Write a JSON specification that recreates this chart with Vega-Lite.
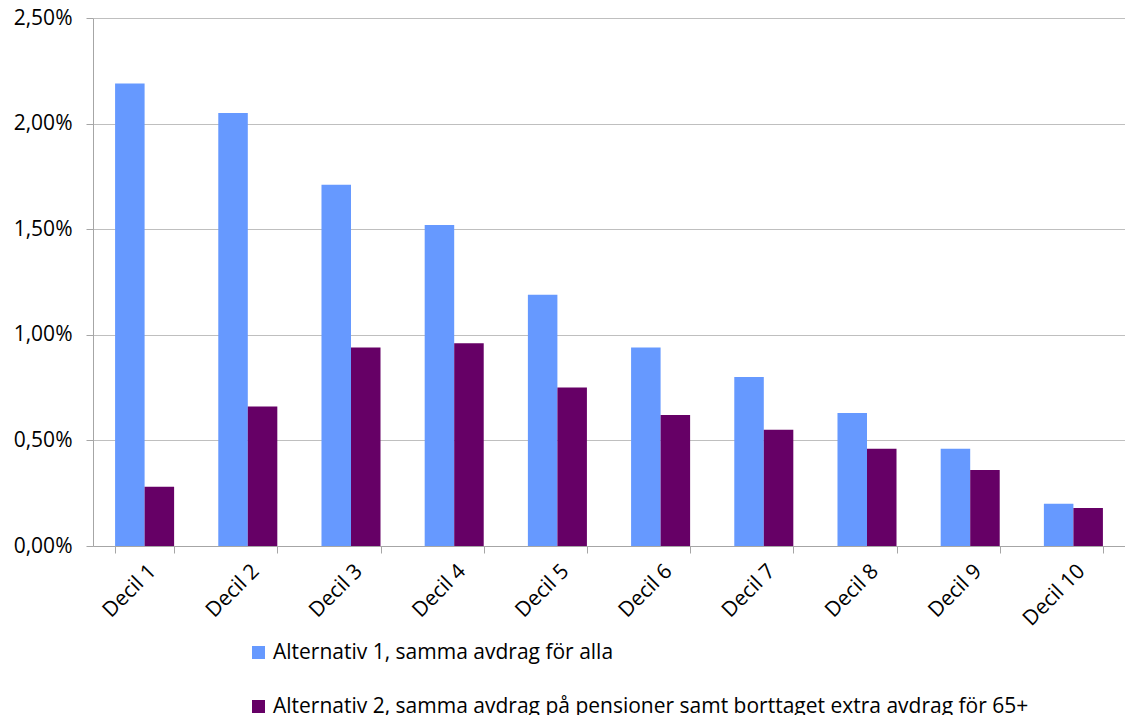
{
  "$schema": "https://vega.github.io/schema/vega-lite/v6.json",
  "width": 1032,
  "height": 528,
  "autosize": {"type": "none"},
  "padding": {"left": 93, "top": 18, "right": 0, "bottom": 169},
  "background": "white",
  "config": {
    "view": {"stroke": null},
    "font": "Open Sans, sans-serif"
  },
  "data": {
    "values": [
      {"decil": "Decil 1", "serie": "Alternativ 1, samma avdrag för alla", "v": 0.0219},
      {"decil": "Decil 2", "serie": "Alternativ 1, samma avdrag för alla", "v": 0.0205},
      {"decil": "Decil 3", "serie": "Alternativ 1, samma avdrag för alla", "v": 0.0171},
      {"decil": "Decil 4", "serie": "Alternativ 1, samma avdrag för alla", "v": 0.0152},
      {"decil": "Decil 5", "serie": "Alternativ 1, samma avdrag för alla", "v": 0.0119},
      {"decil": "Decil 6", "serie": "Alternativ 1, samma avdrag för alla", "v": 0.0094},
      {"decil": "Decil 7", "serie": "Alternativ 1, samma avdrag för alla", "v": 0.0080},
      {"decil": "Decil 8", "serie": "Alternativ 1, samma avdrag för alla", "v": 0.0063},
      {"decil": "Decil 9", "serie": "Alternativ 1, samma avdrag för alla", "v": 0.0046},
      {"decil": "Decil 10", "serie": "Alternativ 1, samma avdrag för alla", "v": 0.0020},
      {"decil": "Decil 1", "serie": "Alternativ 2, samma avdrag på pensioner samt borttaget extra avdrag för 65+", "v": 0.0028},
      {"decil": "Decil 2", "serie": "Alternativ 2, samma avdrag på pensioner samt borttaget extra avdrag för 65+", "v": 0.0066},
      {"decil": "Decil 3", "serie": "Alternativ 2, samma avdrag på pensioner samt borttaget extra avdrag för 65+", "v": 0.0094},
      {"decil": "Decil 4", "serie": "Alternativ 2, samma avdrag på pensioner samt borttaget extra avdrag för 65+", "v": 0.0096},
      {"decil": "Decil 5", "serie": "Alternativ 2, samma avdrag på pensioner samt borttaget extra avdrag för 65+", "v": 0.0075},
      {"decil": "Decil 6", "serie": "Alternativ 2, samma avdrag på pensioner samt borttaget extra avdrag för 65+", "v": 0.0062},
      {"decil": "Decil 7", "serie": "Alternativ 2, samma avdrag på pensioner samt borttaget extra avdrag för 65+", "v": 0.0055},
      {"decil": "Decil 8", "serie": "Alternativ 2, samma avdrag på pensioner samt borttaget extra avdrag för 65+", "v": 0.0046},
      {"decil": "Decil 9", "serie": "Alternativ 2, samma avdrag på pensioner samt borttaget extra avdrag för 65+", "v": 0.0036},
      {"decil": "Decil 10", "serie": "Alternativ 2, samma avdrag på pensioner samt borttaget extra avdrag för 65+", "v": 0.0018}
    ]
  },
  "mark": {"type": "bar"},
  "encoding": {
    "x": {
      "field": "decil",
      "type": "nominal",
      "sort": null,
      "scale": {"paddingInner": 0.428, "paddingOuter": 0.214},
      "axis": {
        "title": null,
        "tickBand": "extent",
        "labelAngle": -45,
        "labelFontSize": 21,
        "labelColor": "#000000",
        "labelPadding": 7,
        "domainColor": "#a6a6a6",
        "tickColor": "#a6a6a6",
        "tickSize": 7,
        "grid": false
      }
    },
    "xOffset": {
      "field": "serie",
      "type": "nominal",
      "sort": null,
      "scale": {"paddingInner": 0, "paddingOuter": 0}
    },
    "y": {
      "field": "v",
      "type": "quantitative",
      "scale": {"domain": [0, 0.025], "nice": false},
      "axis": {
        "title": null,
        "values": [0, 0.005, 0.01, 0.015, 0.02, 0.025],
        "labelExpr": "replace(format(datum.value, '.2%'), '.', ',')",
        "labelFontSize": 21,
        "labelColor": "#000000",
        "labelPadding": 14,
        "domainColor": "#a6a6a6",
        "tickColor": "#a6a6a6",
        "tickSize": 7,
        "gridColor": "#bfbfbf",
        "gridWidth": 1
      }
    },
    "color": {
      "field": "serie",
      "type": "nominal",
      "sort": null,
      "scale": {"range": ["#6699ff", "#660066"]},
      "legend": {
        "title": null,
        "orient": "none",
        "legendX": 155,
        "legendY": 624,
        "direction": "vertical",
        "symbolType": "square",
        "symbolSize": 169,
        "symbolStrokeWidth": 0,
        "labelFontSize": 21,
        "labelColor": "#000000",
        "labelLimit": 900,
        "labelOffset": 4,
        "rowPadding": 32,
        "padding": 0
      }
    }
  }
}
